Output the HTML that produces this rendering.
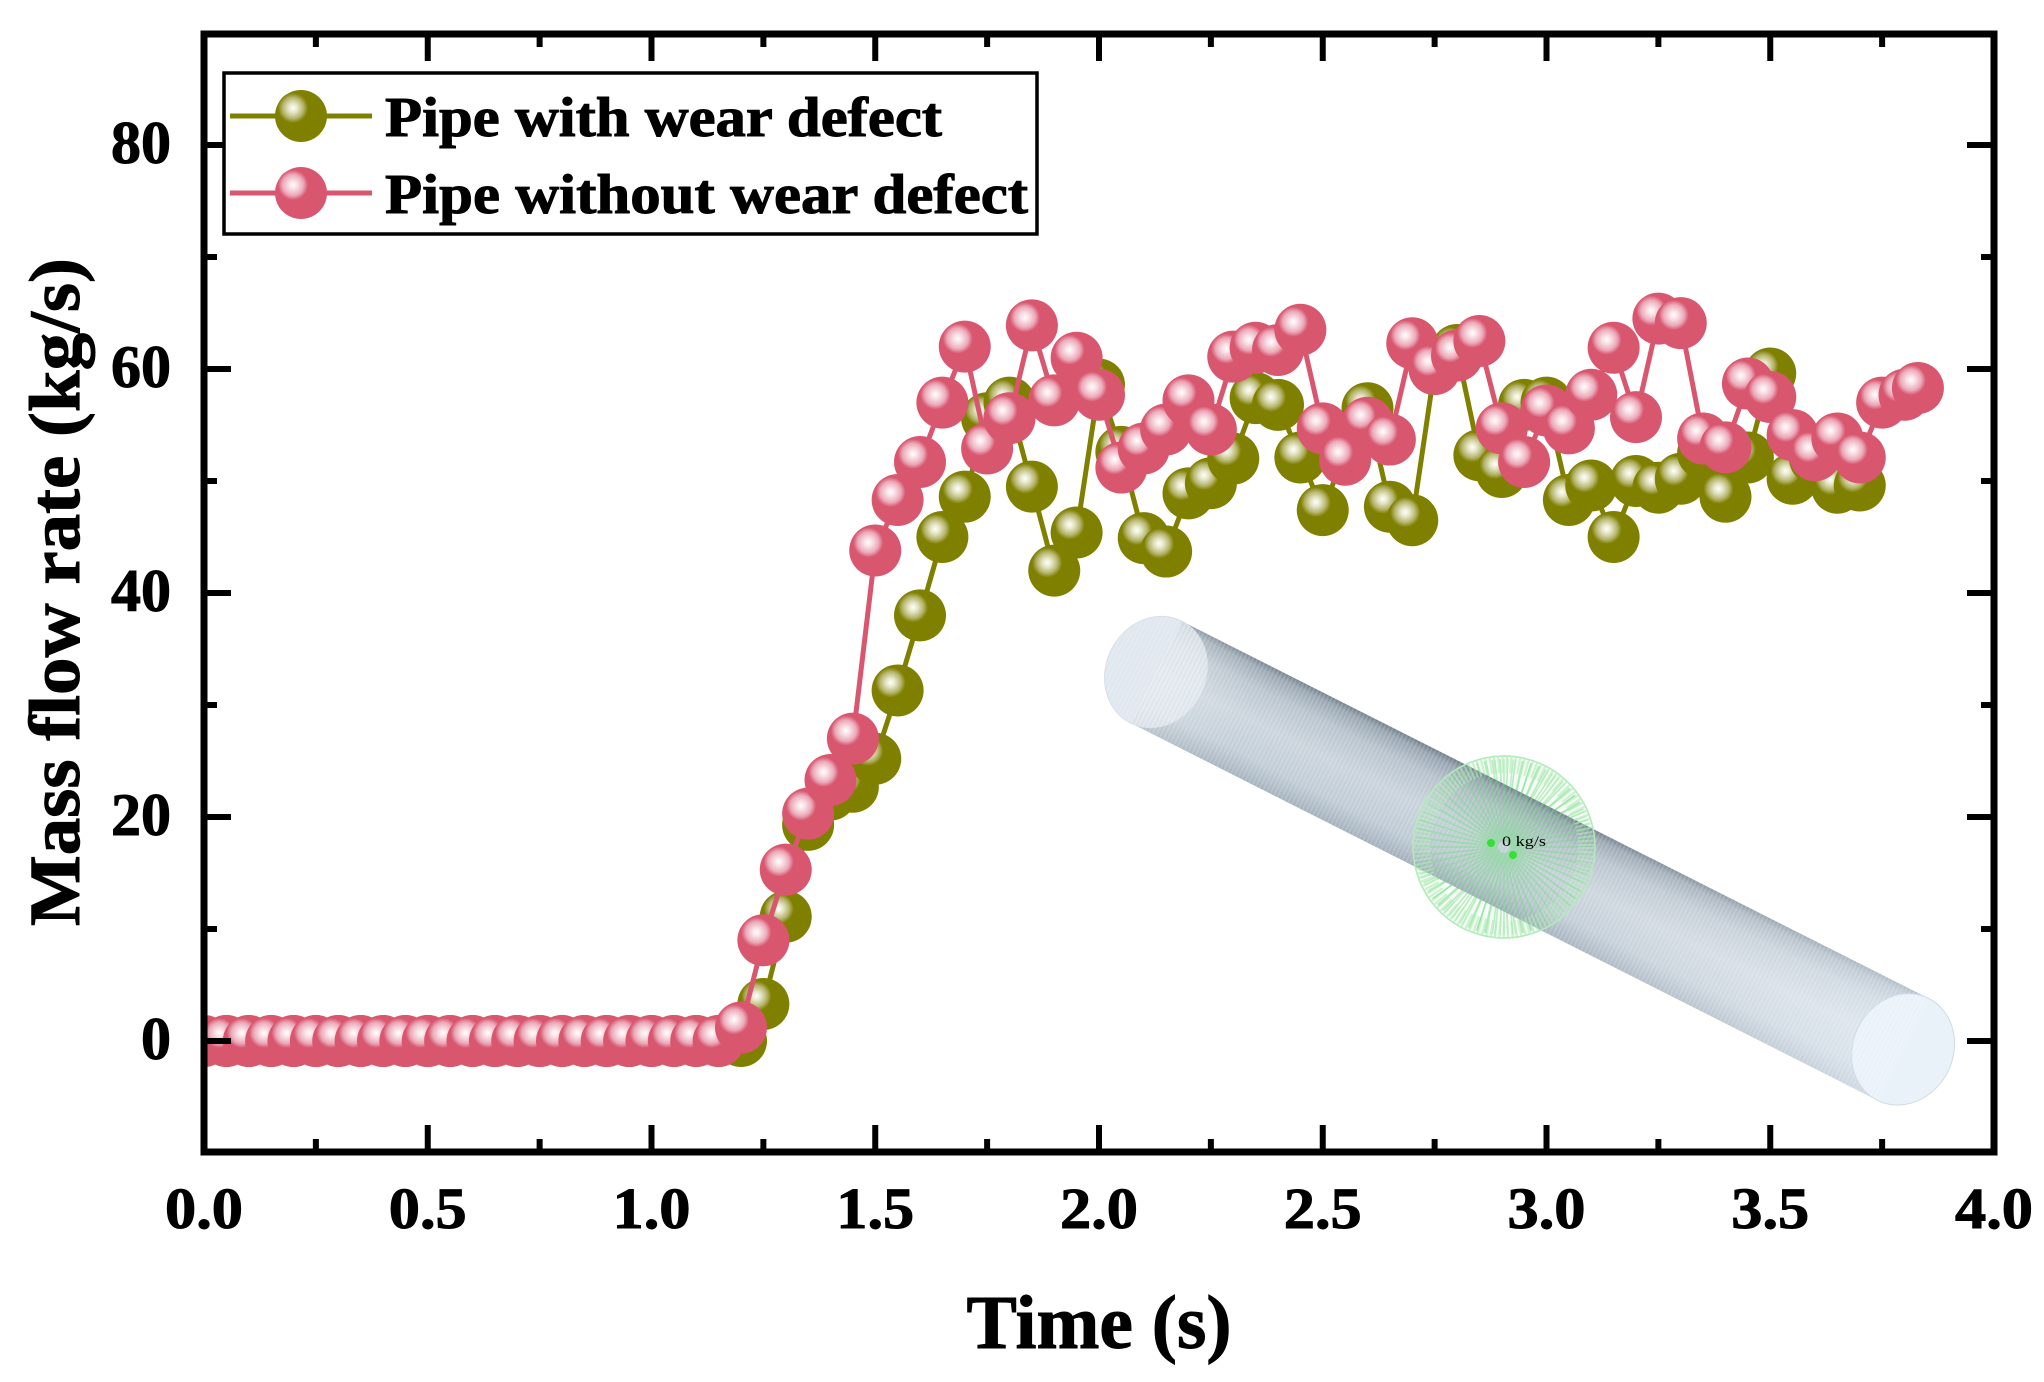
<!DOCTYPE html>
<html lang="en">
<head>
<meta charset="utf-8">
<title>Mass flow rate vs time</title>
<style>
html,body{margin:0;padding:0;background:#fff;}
svg{display:block;}
text{font-family:"Liberation Serif",serif;font-weight:bold;fill:#000;stroke:#000;stroke-width:1;}
</style>
</head>
<body>
<svg id="chart" xmlns="http://www.w3.org/2000/svg" width="2044" height="1382" viewBox="0 0 2044 1382">
  <defs>
    <radialGradient id="hl-olive"><stop offset="0" stop-color="#ffffff"/><stop offset=".3" stop-color="#e6e6c8"/><stop offset=".7" stop-color="#b5b56e"/><stop offset="1" stop-color="#808000"/></radialGradient>
    <radialGradient id="hl-pink"><stop offset="0" stop-color="#ffffff"/><stop offset=".3" stop-color="#f9dde3"/><stop offset=".7" stop-color="#eba9b8"/><stop offset="1" stop-color="#d9566f"/></radialGradient>
    <clipPath id="plot-clip"><rect x="204" y="34" width="1790" height="1118"/></clipPath>
    <linearGradient id="tube-across" x1="0" y1="0" x2="0" y2="1">
      <stop offset="0" stop-color="#5f6f7e"/><stop offset=".06" stop-color="#8b99a6"/><stop offset=".22" stop-color="#aebbc6"/><stop offset=".5" stop-color="#c3ced8"/><stop offset=".8" stop-color="#b8c5d0"/><stop offset="1" stop-color="#98a7b4"/>
    </linearGradient>
    <linearGradient id="tube-along" x1="0" y1="0" x2="1" y2="0">
      <stop offset="0" stop-color="#fff" stop-opacity=".3"/><stop offset=".12" stop-color="#fff" stop-opacity=".08"/><stop offset=".5" stop-color="#fff" stop-opacity="0"/><stop offset="1" stop-color="#eef6ff" stop-opacity=".6"/>
    </linearGradient>
    <pattern id="tube-stripes" width="4" height="4" patternUnits="userSpaceOnUse"><rect width="1.6" height="4" fill="#fff" fill-opacity=".16"/></pattern>
  </defs>

  <g id="series-layer" clip-path="url(#plot-clip)"></g>

  <g>
    <g id="disc-back"></g>
    <g transform="translate(1156 672) rotate(26.8)">
      <ellipse cx="0" cy="0" rx="50" ry="57" fill="#d3dce4"/>
      <rect x="0" y="-57" width="837" height="114" fill="url(#tube-across)" opacity=".92"/>
      <rect x="0" y="-57" width="837" height="114" fill="url(#tube-along)"/>
      <ellipse cx="0" cy="0" rx="50" ry="57" fill="#e6ecf1" fill-opacity=".72" stroke="#d6dfe7" stroke-width="1"/>
      <ellipse cx="837" cy="0" rx="50" ry="57" fill="#eaf2f9" stroke="#cfdbe5" stroke-width="1"/>
      <ellipse cx="0" cy="0" rx="50" ry="57" fill="url(#tube-stripes)"/>
      <rect x="0" y="-57" width="837" height="114" fill="url(#tube-stripes)"/>
    </g>
    <g id="disc-front"></g>
    <circle cx="1491" cy="843" r="4" fill="#35e035"/>
    <circle cx="1513" cy="855" r="4" fill="#35e035"/>
    <text x="1502" y="846" font-size="15" textLength="44" lengthAdjust="spacingAndGlyphs" style="font-weight:normal;stroke-width:0">0 kg/s</text>
  </g>

  <g id="axes-layer">
    <rect x="204" y="34" width="1790" height="1118" fill="none" stroke="#000" stroke-width="7"/>
  </g>

  <text x="79" y="592" font-size="72" text-anchor="middle" textLength="668" lengthAdjust="spacingAndGlyphs" transform="rotate(-90 79 592)">Mass flow rate (kg/s)</text>
  <text x="1099" y="1348" font-size="76" text-anchor="middle" textLength="265" lengthAdjust="spacingAndGlyphs">Time (s)</text>

  <g>
    <rect x="224" y="73" width="813" height="161" fill="#fff" stroke="#000" stroke-width="3.5"/>
    <g>
      <line x1="230" y1="116" x2="372" y2="116" stroke="#808000" stroke-width="5"/>
      <circle cx="301" cy="116" r="26" fill="#808000"/>
      <circle cx="293" cy="108" r="15" fill="url(#hl-olive)"/>
      <text x="385" y="136" font-size="56" textLength="557" lengthAdjust="spacingAndGlyphs">Pipe with wear defect</text>
    </g>
    <g>
      <line x1="230" y1="193" x2="372" y2="193" stroke="#d9566f" stroke-width="5"/>
      <circle cx="301" cy="193" r="26" fill="#d9566f"/>
      <circle cx="293" cy="185" r="15" fill="url(#hl-pink)"/>
      <text x="385" y="213" font-size="56" textLength="643" lengthAdjust="spacingAndGlyphs">Pipe without wear defect</text>
    </g>
  </g>
</svg>

<script>
var timesWithDefect = [0,0.05,0.1,0.15,0.2,0.25,0.3,0.35,0.4,0.45,0.5,0.55,0.6,0.65,0.7,0.75,0.8,0.85,0.9,0.95,1,1.05,1.1,1.15,1.2,1.25,1.3,1.35,1.4,1.45,1.5,1.55,1.6,1.65,1.7,1.75,1.8,1.85,1.9,1.95,2,2.05,2.1,2.15,2.2,2.25,2.3,2.35,2.4,2.45,2.5,2.55,2.6,2.65,2.7,2.75,2.8,2.85,2.9,2.95,3,3.05,3.1,3.15,3.2,3.25,3.3,3.35,3.4,3.45,3.5,3.55,3.6,3.65,3.7];
var flowWithDefect = [0,0,0,0,0,0,0,0,0,0,0,0,0,0,0,0,0,0,0,0,0,0,0,0,0,3.3,11.1,19.3,22,22.7,25.2,31.3,38,45,48.6,55.6,57,49.5,42,45.4,58.6,52.6,44.9,43.7,48.9,49.8,52,57.4,56.8,52.1,47.4,52.5,56.5,47.7,46.5,60,61.7,52.3,50.8,56.8,57,48.3,49.6,45,50,49.4,50.2,52.5,48.6,52.1,59.6,50.2,52,49.4,49.6];
var timesWithoutDefect = [0,0.05,0.1,0.15,0.2,0.25,0.3,0.35,0.4,0.45,0.5,0.55,0.6,0.65,0.7,0.75,0.8,0.85,0.9,0.95,1,1.05,1.1,1.15,1.2,1.25,1.3,1.35,1.4,1.45,1.5,1.55,1.6,1.65,1.7,1.75,1.8,1.85,1.9,1.95,2,2.05,2.1,2.15,2.2,2.25,2.3,2.35,2.4,2.45,2.5,2.55,2.6,2.65,2.7,2.75,2.8,2.85,2.9,2.95,3,3.05,3.1,3.15,3.2,3.25,3.3,3.35,3.4,3.45,3.5,3.55,3.6,3.65,3.7,3.75,3.8,3.83];
var flowWithoutDefect = [0,0,0,0,0,0,0,0,0,0,0,0,0,0,0,0,0,0,0,0,0,0,0,0,1.2,9,15.3,20.3,23.3,27,43.8,48.3,51.7,57,62,52.9,55.6,63.9,57.2,61,57.7,51.2,52.9,54.6,57.2,54.6,61.1,61.9,61.7,63.5,54.7,51.9,55.2,53.7,62.3,60,61.2,62.5,54.7,51.7,56.3,54.7,57.7,61.9,55.7,64.5,64.1,53.8,53,58.7,57.5,54.1,52.3,53.8,52.1,57,57.7,58.3];
var xMajorTicks = [0,0.5,1,1.5,2,2.5,3,3.5,4];
var xMajorLabels = ["0.0","0.5","1.0","1.5","2.0","2.5","3.0","3.5","4.0"];
var xMinorTicks = [0.25,0.75,1.25,1.75,2.25,2.75,3.25,3.75];
var yMajorTicks = [0,20,40,60,80];
var yMajorLabels = ["0","20","40","60","80"];
var yMinorTicks = [10,30,50,70];

var NS = "http://www.w3.org/2000/svg";
var X0 = 204, X_PER_UNIT = 447.5, Y0 = 1041, Y_PER_UNIT = 11.2;
function xScale(t){ return X0 + t * X_PER_UNIT; }
function yScale(v){ return Y0 - v * Y_PER_UNIT; }
function make(tag, parent){ var el = document.createElementNS(NS, tag); parent.appendChild(el); return el; }

function drawSeries(times, values, color, highlight, label){
  var layer = document.getElementById("series-layer");
  var g = make("g", layer);
  
  
  var pts = [];
  for (var i = 0; i < times.length; i++){ pts.push(xScale(times[i]).toFixed(1) + "," + yScale(values[i]).toFixed(1)); }
  var line = make("polyline", g);
  line.setAttribute("points", pts.join(" "));
  line.setAttribute("fill", "none");
  line.setAttribute("stroke", color);
  line.setAttribute("stroke-width", "5");
  
  
  for (var j = 0; j < times.length; j++){
    var cx = xScale(times[j]), cy = yScale(values[j]);
    var m = make("g", g);
    
    
    var base = make("circle", m);
    base.setAttribute("cx", cx); base.setAttribute("cy", cy); base.setAttribute("r", "26"); base.setAttribute("fill", color);
    var shine = make("circle", m);
    shine.setAttribute("cx", cx - 7); shine.setAttribute("cy", cy - 8); shine.setAttribute("r", "15"); shine.setAttribute("fill", "url(#" + highlight + ")");
  }
}
drawSeries(timesWithDefect, flowWithDefect, "#808000", "hl-olive", "with-defect");
drawSeries(timesWithoutDefect, flowWithoutDefect, "#d9566f", "hl-pink", "without-defect");

var axes = document.getElementById("axes-layer");
function tickLine(x1, y1, x2, y2, name){
  var l = make("line", axes);
  l.setAttribute("x1", x1); l.setAttribute("y1", y1); l.setAttribute("x2", x2); l.setAttribute("y2", y2);
  l.setAttribute("stroke", "#000"); l.setAttribute("stroke-width", "6");
  
  
}
var TOP = 34, BOTTOM = 1152, LEFT = 204, RIGHT = 1994, MAJ = 27, MIN = 13;
xMajorTicks.forEach(function(t, i){
  var x = xScale(t);
  tickLine(x, BOTTOM, x, BOTTOM - MAJ, 'x-major-tick');
  tickLine(x, TOP, x, TOP + MAJ, 'x-top-major-tick');
  var lb = make("text", axes);
  lb.setAttribute("x", x); lb.setAttribute("y", 1228); lb.setAttribute("font-size", "58");
  lb.setAttribute("text-anchor", "middle"); lb.setAttribute("textLength", "78"); lb.setAttribute("lengthAdjust", "spacingAndGlyphs");
  lb.textContent = xMajorLabels[i];
  
  
});
xMinorTicks.forEach(function(t){
  var x = xScale(t);
  tickLine(x, BOTTOM, x, BOTTOM - MIN, 'x-minor-tick');
  tickLine(x, TOP, x, TOP + MIN, 'x-top-minor-tick');
});
yMajorTicks.forEach(function(v, i){
  var y = yScale(v);
  tickLine(LEFT, y, LEFT + MAJ, y, 'y-major-tick');
  tickLine(RIGHT, y, RIGHT - MAJ, y, 'y-right-major-tick');
  var lb = make("text", axes);
  lb.setAttribute("x", 171); lb.setAttribute("y", y + 18); lb.setAttribute("font-size", "60");
  lb.setAttribute("text-anchor", "end");
  lb.textContent = yMajorLabels[i];
  
  
});
yMinorTicks.forEach(function(v){
  var y = yScale(v);
  tickLine(LEFT, y, LEFT + MIN, y, 'y-minor-tick');
  tickLine(RIGHT, y, RIGHT - MIN, y, 'y-right-minor-tick');
});

/* decorative defect disc on the pipe illustration */
function ringPath(cx, cy, rIn, rOut, n){
  var d = "";
  for (var k = 0; k < n; k++){
    var a = k / n * Math.PI * 2, c = Math.cos(a), s = Math.sin(a);
    d += "M" + (cx + rIn * c).toFixed(1) + " " + (cy + rIn * s).toFixed(1) + "L" + (cx + rOut * c).toFixed(1) + " " + (cy + rOut * s).toFixed(1);
  }
  return d;
}
function buildDisc(id, tintOpacity, spokeOpacity, spokeCount){
  var host = document.getElementById(id);
  var cx = 1504, cy = 847;
  var tint = make("circle", host);
  tint.setAttribute("cx", cx); tint.setAttribute("cy", cy); tint.setAttribute("r", "91");
  tint.setAttribute("fill", "#7fe08f"); tint.setAttribute("fill-opacity", tintOpacity);
  tint.setAttribute("stroke", "#b4ecb9"); tint.setAttribute("stroke-width", "1.5");
  var spokes = make("path", host);
  spokes.setAttribute("d", ringPath(cx, cy, 6, 88, spokeCount));
  spokes.setAttribute("stroke", "#78dc85"); spokes.setAttribute("stroke-width", "1.6"); spokes.setAttribute("stroke-opacity", spokeOpacity); spokes.setAttribute("fill", "none");
  var rim = make("circle", host);
  rim.setAttribute("cx", cx); rim.setAttribute("cy", cy); rim.setAttribute("r", "82");
  rim.setAttribute("fill", "none"); rim.setAttribute("stroke", "#bdf0c1"); rim.setAttribute("stroke-width", "16"); rim.setAttribute("stroke-opacity", ".5"); rim.setAttribute("stroke-dasharray", "2 2");
}
buildDisc("disc-back", "0", ".5", 70);
buildDisc("disc-front", ".07", ".45", 60);
</script>
</body>
</html>
